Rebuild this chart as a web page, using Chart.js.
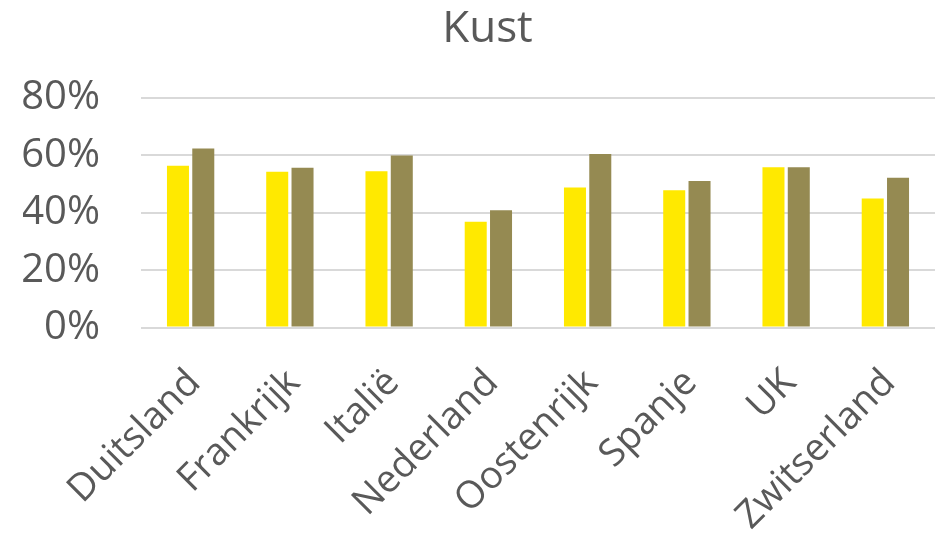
<!DOCTYPE html>
<html>
<head>
<meta charset="utf-8">
<script src="https://cdn.jsdelivr.net/npm/chart.js@4/dist/chart.umd.min.js"></script>
<style>
  html, body { margin: 0; padding: 0; background: #fff; }
  #wrap { width: 935px; height: 537px; }
</style>
</head>
<body>
<div id="wrap"><canvas id="grafiek"></canvas></div>
<script>
// data uit de grafiek "Kust"
const landen = ["Duitsland", "Frankrijk", "Italië", "Nederland", "Oostenrijk", "Spanje", "UK", "Zwitserland"];
const reeksGeel = [56.4, 54.3, 54.5, 36.9, 48.8, 47.8, 55.9, 45.0];
const reeksOlijf = [62.4, 55.7, 60.0, 40.9, 60.5, 51.1, 55.9, 52.2];
const yTicks = [0, 20, 40, 60, 80];
const titel = "Kust";

const tekstKleur = "#595959";
const lettertype = "'Open Sans', 'Noto Sans', sans-serif";

// titel iets rechts van het midden, zoals in het origineel
const titelPlugin = {
    id: "titel",
    afterDraw(chart) {
        const ctx = chart.ctx;
        ctx.save();
        ctx.fillStyle = tekstKleur;
        ctx.font = "44px " + lettertype;
        ctx.textAlign = "center";
        ctx.textBaseline = "alphabetic";
        ctx.fillText(titel, chart.width / 2 + 20, 42);
        ctx.restore();
    }
};

new Chart(document.getElementById("grafiek"), {
    type: "bar",
    data: {
        labels: landen,
        datasets: [
            { label: "reeks 1", data: reeksGeel, backgroundColor: "#FFE900" },
            { label: "reeks 2", data: reeksOlijf, backgroundColor: "#958A52" }
        ]
    },
    plugins: [titelPlugin],
    options: {
        responsive: true,
        maintainAspectRatio: false,
        animation: false,
        layout: { padding: { left: 23, right: -1, top: 98, bottom: -20 } },
        categoryPercentage: 0.51,
        barPercentage: 0.87,
        plugins: {
            legend: { display: false },
            tooltip: { enabled: false },
            title: { display: false }
        },
        scales: {
            x: {
                grid: { display: false },
                border: { display: false },
                // schuine labels mogen links uitsteken zonder het plotvlak te verkleinen
                afterFit: s => {
                    s.paddingLeft = 0;
                    s.paddingRight = 0;
                    s.getPadding = () => ({ left: 0, top: 0, right: 0, bottom: 0 });
                },
                ticks: {
                    color: tekstKleur,
                    font: { family: lettertype, size: 38 },
                    minRotation: 45,
                    maxRotation: 45,
                    padding: 25,
                    labelOffset: 4
                }
            },
            y: {
                min: 0,
                max: 80,
                afterBuildTicks: axis => { axis.ticks = yTicks.map(v => ({ value: v })); },
                afterFit: s => { s.width = 118; },
                grid: { color: "#d9d9d9", lineWidth: 2, drawTicks: false },
                border: { display: false },
                ticks: {
                    color: tekstKleur,
                    font: { family: lettertype, size: 40 },
                    padding: 41,
                    callback: v => v + "%"
                }
            }
        }
    }
});
</script>
</body>
</html>
